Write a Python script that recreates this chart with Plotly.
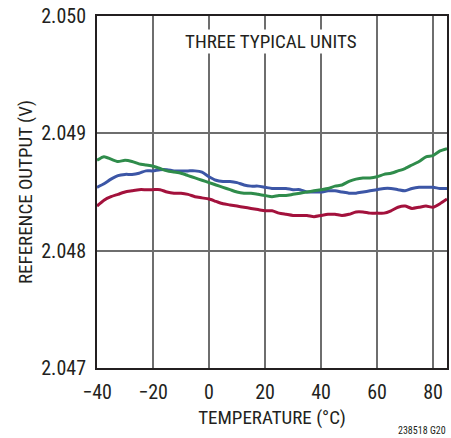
import plotly.graph_objects as go

temps = [-40, -37.5, -35, -32.5, -30, -27.5, -25, -22.5, -20, -17.5, -15, -12.5, -10, -7.5, -5, -2.5,
         0, 2.5, 5, 7.5, 10, 12.5, 15, 17.5, 20, 22.5, 25, 27.5, 30, 32.5, 35, 37.5, 40, 42.5, 45, 47.5,
         50, 52.5, 55, 57.5, 60, 62.5, 65, 67.5, 70, 72.5, 75, 77.5, 80, 82.5, 85]

unit_green = [2.04877, 2.04880, 2.04878, 2.04876, 2.04877, 2.04876, 2.04874, 2.04873, 2.04872, 2.04870,
              2.04868, 2.04867, 2.04866, 2.04864, 2.04862, 2.04860, 2.04858, 2.04856, 2.04854, 2.04852,
              2.04850, 2.04849, 2.04849, 2.04848, 2.04847, 2.04846, 2.04847, 2.04847, 2.04848, 2.04849,
              2.04850, 2.04851, 2.04852, 2.04853, 2.04855, 2.04856, 2.04859, 2.04861, 2.04862, 2.04862,
              2.04863, 2.04865, 2.04866, 2.04868, 2.04870, 2.04873, 2.04876, 2.04880, 2.04881, 2.04885,
              2.04887]

unit_blue = [2.04854, 2.04857, 2.04861, 2.04864, 2.04865, 2.04865, 2.04866, 2.04868, 2.04868, 2.04869,
             2.04869, 2.04868, 2.04868, 2.04868, 2.04868, 2.04867, 2.04863, 2.04860, 2.04859, 2.04859,
             2.04858, 2.04856, 2.04855, 2.04855, 2.04854, 2.04853, 2.04853, 2.04853, 2.04852, 2.04852,
             2.04850, 2.04850, 2.04850, 2.04851, 2.04851, 2.04850, 2.04849, 2.04849, 2.04850, 2.04851,
             2.04852, 2.04853, 2.04853, 2.04852, 2.04851, 2.04853, 2.04854, 2.04854, 2.04854, 2.04853,
             2.04853]

unit_red = [2.04838, 2.04843, 2.04846, 2.04848, 2.04850, 2.04851, 2.04852, 2.04852, 2.04852, 2.04852,
            2.04850, 2.04849, 2.04849, 2.04848, 2.04846, 2.04845, 2.04844, 2.04842, 2.04840, 2.04839,
            2.04838, 2.04837, 2.04836, 2.04835, 2.04834, 2.04834, 2.04832, 2.04831, 2.04830, 2.04830,
            2.04830, 2.04829, 2.04830, 2.04831, 2.04831, 2.04830, 2.04831, 2.04833, 2.04833, 2.04832,
            2.04832, 2.04832, 2.04834, 2.04837, 2.04838, 2.04836, 2.04837, 2.04838, 2.04837, 2.04840,
            2.04844]

x_ticks = [-40, -20, 0, 20, 40, 60, 80]
x_tick_labels = ["\u221240", "\u221220", "0", "20", "40", "60", "80"]
y_ticks = [2.047, 2.048, 2.049, 2.050]
y_tick_labels = ["2.047", "2.048", "2.049", "2.050"]

FONT = "Liberation Sans Narrow, Roboto Condensed, Arial Narrow, Liberation Sans, sans-serif"
INK = "#231f20"

fig = go.Figure()
for vals, col in [(unit_red, "#A3113C"), (unit_blue, "#3C56A6"), (unit_green, "#2F8C4B")]:
    fig.add_trace(go.Scatter(x=temps, y=vals, mode="lines",
                             line=dict(color=col, width=3, shape="spline", smoothing=0.6),
                             showlegend=False, hoverinfo="skip"))

fig.update_layout(
    width=451, height=438,
    margin=dict(l=97, r=2, t=16, b=70),
    paper_bgcolor="white", plot_bgcolor="white",
    font=dict(family=FONT, color=INK, size=19),
)
fig.update_xaxes(range=[-40, 85], tickvals=x_ticks, ticktext=x_tick_labels,
                 showgrid=True, gridcolor="#6e6e6e", gridwidth=1.5,
                 showline=True, linecolor=INK, linewidth=2, mirror=True,
                 ticks="", zeroline=False, tickfont=dict(size=20), ticklabelstandoff=5,
                 title=dict(text="TEMPERATURE (\u00b0C)", font=dict(size=19), standoff=8))
fig.update_yaxes(range=[2.047, 2.050], tickvals=y_ticks, ticktext=y_tick_labels,
                 showgrid=True, gridcolor="#6e6e6e", gridwidth=1.5,
                 showline=True, linecolor=INK, linewidth=2, mirror=True,
                 ticks="", zeroline=False, tickfont=dict(size=20), ticklabelstandoff=5,
                 title=dict(text="REFERENCE OUTPUT (V)", font=dict(size=19), standoff=4))

fig.add_annotation(x=-8.8, y=2.04978, xref="x", yref="y", xanchor="left", yanchor="middle",
                   text="THREE TYPICAL UNITS", showarrow=False, font=dict(size=19),
                   bgcolor="white", borderpad=0)
fig.add_annotation(x=1.0, y=0, xref="paper", yref="paper", yshift=-62, xshift=1,
                   xanchor="right", yanchor="middle", text="238518 G20", showarrow=False,
                   font=dict(size=10))

fig.write_html("out.html", config={"displayModeBar": False},
               post_script="document.body.style.margin='0';")
